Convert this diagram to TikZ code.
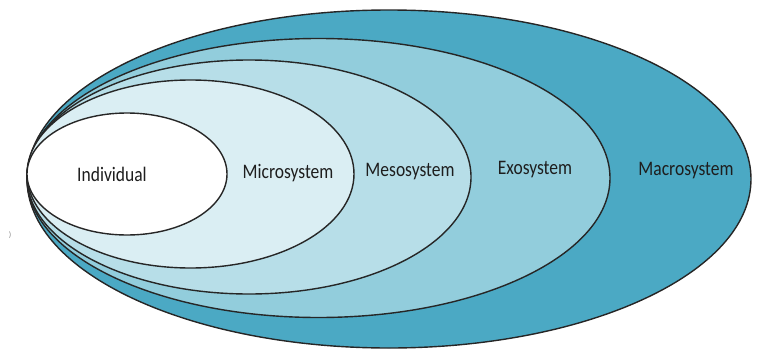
\documentclass[tikz,border=0pt]{standalone}
\usepackage{fontspec}
\setmainfont{Carlito}
\usetikzlibrary{shapes.geometric}
\definecolor{macroc}{HTML}{4BA9C4}
\definecolor{exoc}{HTML}{92CDDC}
\definecolor{mesoc}{HTML}{B7DEE8}
\definecolor{microc}{HTML}{DAEEF3}
\definecolor{txtc}{HTML}{1E1E1E}
\tikzset{
  ring/.style={ellipse, draw=black!85, line width=1.4pt, inner sep=0pt},
  lab/.style={font=\fontsize{17.5}{20}\selectfont, text=txtc, inner sep=0pt, yscale=1.18}
}
\begin{document}
\begin{tikzpicture}[x=1pt,y=-1pt]
\useasboundingbox (0,0) rectangle (758,351);
\node[ring, fill=macroc, minimum width=724pt, minimum height=338pt] (macro) at (389,179) {};
\node[ring, fill=exoc, minimum width=583pt, minimum height=279pt] (exo) at (318.5,178) {};
\node[ring, fill=mesoc, minimum width=444pt, minimum height=234pt] (meso) at (249,177) {};
\node[ring, fill=microc, minimum width=327pt, minimum height=188pt] (micro) at (190.5,174) {};
\node[ring, fill=white, minimum width=200pt, minimum height=122pt] (indiv) at (127,174) {};
\node[lab] (tindiv) at (112,174) {Individual};
\node[lab] (tmicro) at (288,173) {Microsystem};
\node[lab] (tmeso) at (410,172) {Mesosystem};
\node[lab] (texo) at (535,170) {Exosystem};
\node[lab] (tmacro) at (686,171) {Macrosystem};
\node[font=\fontsize{8}{9}\selectfont, text=black!45, inner sep=0pt] (stray) at (10,235) {)};
\end{tikzpicture}
\end{document}
